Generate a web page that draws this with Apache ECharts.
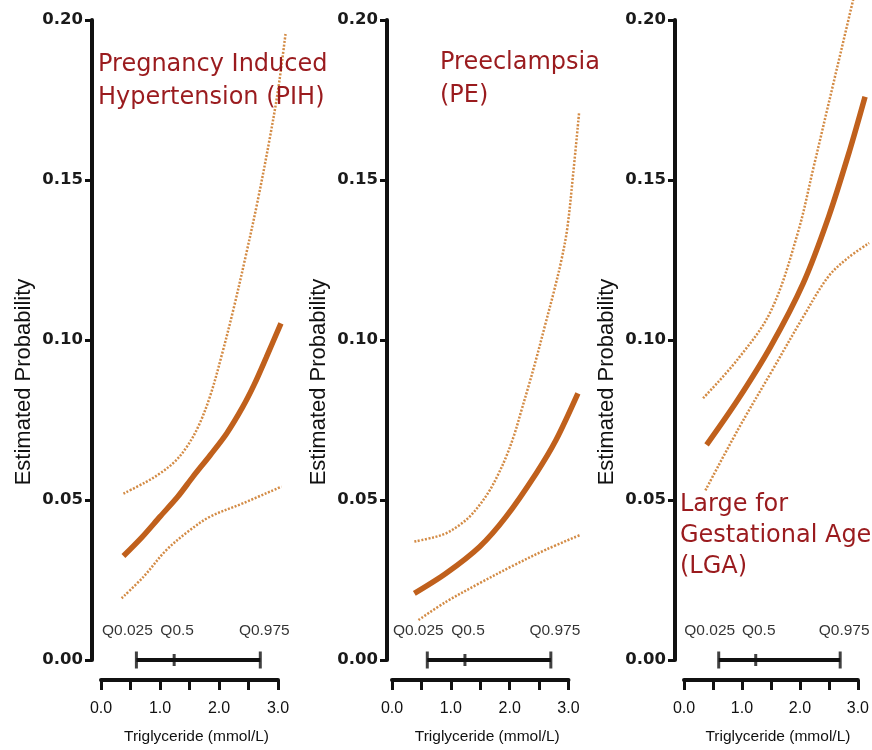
<!DOCTYPE html>
<html>
<head>
<meta charset="utf-8">
<script src="https://cdn.jsdelivr.net/npm/echarts@6/dist/echarts.min.js"></script>
<style>
  html, body { margin: 0; padding: 0; background: #fff; }
  #chart { width: 872px; height: 750px; }
</style>
</head>
<body>
<div id="chart"></div>
<script>
// [triglyceride, estimated probability]
const pihMean = [[0.38, 0.0325], [0.7, 0.0385], [1.0, 0.0448], [1.3, 0.051], [1.56, 0.0573], [1.85, 0.064], [2.13, 0.0708], [2.4, 0.079], [2.6, 0.0862], [2.8, 0.0945], [3.05, 0.1052]]
const pihUpper = [[0.38, 0.052], [0.75, 0.0555], [1.0, 0.0583], [1.25, 0.062], [1.45, 0.0665], [1.65, 0.073], [1.85, 0.0825], [2.05, 0.0955], [2.25, 0.11], [2.45, 0.126], [2.65, 0.143], [2.85, 0.162], [3.0, 0.178], [3.13, 0.196]]
const pihLower = [[0.35, 0.0193], [0.72, 0.026], [1.11, 0.0344], [1.51, 0.0406], [1.85, 0.0448], [2.41, 0.049], [3.06, 0.0542]]

const peMean = [[0.38, 0.0208], [0.92, 0.0271], [1.49, 0.0354], [1.94, 0.0448], [2.45, 0.0583], [2.79, 0.0688], [3.16, 0.0833]]
const peUpper = [[0.38, 0.037], [0.7, 0.0383], [0.92, 0.0396], [1.15, 0.0422], [1.32, 0.0448], [1.5, 0.0487], [1.66, 0.053], [1.8, 0.0578], [1.94, 0.0635], [2.08, 0.0705], [2.2, 0.078], [2.32, 0.0855], [2.45, 0.094], [2.6, 0.1045], [2.75, 0.115], [2.88, 0.125], [2.98, 0.135], [3.08, 0.152], [3.18, 0.171]]
const peLower = [[0.45, 0.0125], [0.92, 0.0182], [1.49, 0.024], [2.06, 0.0295], [2.62, 0.0345], [3.19, 0.039]]

const lgaMean = [[0.39, 0.0672], [0.93, 0.0813], [1.5, 0.098], [2.06, 0.1177], [2.5, 0.1385], [2.86, 0.159], [3.13, 0.176]]
const lgaUpper = [[0.33, 0.0818], [0.93, 0.094], [1.5, 0.109], [1.96, 0.133], [2.24, 0.154], [2.58, 0.18], [2.92, 0.206], [2.97, 0.21]]
const lgaLower = [[0.37, 0.053], [0.93, 0.0719], [1.5, 0.0897], [2.06, 0.1072], [2.49, 0.1197], [2.83, 0.1256], [3.2, 0.1303]]

// quantiles of triglyceride shown under each panel
const qValues = [0.6, 1.24, 2.7]
const qLabels = ['Q0.025', 'Q0.5', 'Q0.975']

const panelTitles = ['Pregnancy Induced\nHypertension (PIH)', 'Preeclampsia\n(PE)', 'Large for\nGestational Age\n(LGA)']
const yTitle = 'Estimated Probability'
const xTitle = 'Triglyceride (mmol/L)'

const panels = [
  { mean: pihMean, upper: pihUpper, lower: pihLower },
  { mean: peMean, upper: peUpper, lower: peLower },
  { mean: lgaMean, upper: lgaUpper, lower: lgaLower },
]

const ink = '#111'
const meanColor = '#C0601C'
const ciColor = '#D38B45'

const gridLeft = [101, 392, 684]
const unitWidth = [59, 58.83, 58.67] // px per mmol/L
const xShownMax = 3
const xDataMax = 3.25 // curves run a little past the drawn axis
const yOffset = [9, 5, 9]
const qLabelShift = [[-9, -29], [3, -29], [4, -29]]

const chart = echarts.init(document.getElementById('chart'))

// grids 0-2 hold the curves (wide enough so line ends are not cut),
// grids 3-5 only carry the visible 0-3 x axis on the same scale
const grids = []
gridLeft.forEach((left, i) => {
  grids.push({ left: left, top: 20, width: unitWidth[i] * xDataMax, height: 640 })
})
gridLeft.forEach((left, i) => {
  grids.push({ left: left, top: 20, width: unitWidth[i] * xShownMax, height: 640 })
})

const xAxes = []
gridLeft.forEach((_, i) => {
  xAxes.push({ gridIndex: i, type: 'value', min: 0, max: xDataMax, show: false })
})
gridLeft.forEach((_, i) => {
  xAxes.push({
    gridIndex: i + 3,
    type: 'value',
    min: 0,
    max: xShownMax,
    interval: 0.5,
    offset: 24,
    position: 'bottom',
    axisLine: { show: true, onZero: false, lineStyle: { color: ink, width: 4 } },
    axisTick: { show: true, length: 10, lineStyle: { color: ink, width: 3 } },
    axisLabel: {
      margin: 21,
      color: ink,
      fontSize: 16,
      fontFamily: 'Liberation Sans',
      formatter: (v) => (v % 1 === 0 ? v.toFixed(1) : ''),
    },
    splitLine: { show: false },
    name: xTitle,
    nameLocation: 'middle',
    nameGap: 49,
    nameTextStyle: {
      color: ink,
      fontSize: 15.5,
      fontFamily: 'Liberation Sans',
      padding: [0, 0, 0, 14],
    },
  })
})

const yAxes = []
gridLeft.forEach((_, i) => {
  yAxes.push({
    gridIndex: i,
    type: 'value',
    min: 0,
    max: 0.2,
    interval: 0.05,
    offset: yOffset[i],
    position: 'left',
    axisLine: { show: true, onZero: false, lineStyle: { color: ink, width: 4 } },
    axisTick: { show: true, length: 7, lineStyle: { color: ink, width: 3 } },
    axisLabel: {
      margin: 9,
      color: '#1a1a1a',
      fontSize: 16.5,
      fontWeight: 'bold',
      fontFamily: 'DejaVu Sans',
      formatter: (v) => v.toFixed(2),
    },
    splitLine: { show: false },
    name: yTitle,
    nameLocation: 'middle',
    nameGap: 57,
    nameTextStyle: {
      color: ink,
      fontSize: 22,
      fontFamily: 'Liberation Sans',
      padding: [0, 84, 0, 0],
    },
  })
})
gridLeft.forEach((_, i) => {
  yAxes.push({ gridIndex: i + 3, type: 'value', min: 0, max: 0.2, show: false })
})

const series = []
panels.forEach((p, i) => {
  const ci = (name, data) => ({
    name: name,
    type: 'line',
    xAxisIndex: i,
    yAxisIndex: i,
    data: data,
    smooth: 0.35,
    showSymbol: false,
    clip: false,
    silent: true,
    lineStyle: { color: ciColor, width: 2.5, type: [2, 1.6] },
  })
  series.push(ci('upper', p.upper))
  series.push(ci('lower', p.lower))
  series.push({
    name: 'mean',
    type: 'line',
    xAxisIndex: i,
    yAxisIndex: i,
    data: p.mean,
    smooth: 0.3,
    showSymbol: false,
    clip: false,
    silent: true,
    lineStyle: { color: meanColor, width: 5.5 },
  })
  series.push({
    name: 'quantile range',
    type: 'line',
    xAxisIndex: i,
    yAxisIndex: i,
    data: [[qValues[0], 0], [qValues[qValues.length - 1], 0]],
    showSymbol: false,
    clip: false,
    silent: true,
    lineStyle: { color: ink, width: 4 },
  })
  series.push({
    name: 'quantiles',
    type: 'scatter',
    xAxisIndex: i,
    yAxisIndex: i,
    clip: false,
    silent: true,
    symbol: 'rect',
    data: qValues.map((q, k) => ({
      value: [q, 0],
      symbolSize: k === 1 ? [3, 12] : [3, 17],
      label: { offset: qLabelShift[k] },
    })),
    itemStyle: { color: ink },
    label: {
      show: true,
      position: 'inside',
      color: '#000',
      textBorderWidth: 0,
      fontSize: 15.5,
      fontFamily: 'Liberation Sans',
      formatter: (params) => qLabels[params.dataIndex],
    },
  })
})

const titleStyle = {
  color: '#9A1B1E',
  fontSize: 24,
  fontWeight: 'normal',
  fontFamily: 'DejaVu Sans',
  lineHeight: 33,
}

chart.setOption({
  animation: false,
  backgroundColor: '#fff',
  title: [
    { text: panelTitles[0], left: 98, top: 48, padding: 0, textStyle: titleStyle },
    { text: panelTitles[1], left: 440, top: 46, padding: 0, textStyle: titleStyle },
    { text: panelTitles[2], left: 680, top: 489, padding: 0, textStyle: { ...titleStyle, lineHeight: 31 } },
  ],
  grid: grids,
  xAxis: xAxes,
  yAxis: yAxes,
  series: series,
})
</script>
</body>
</html>
